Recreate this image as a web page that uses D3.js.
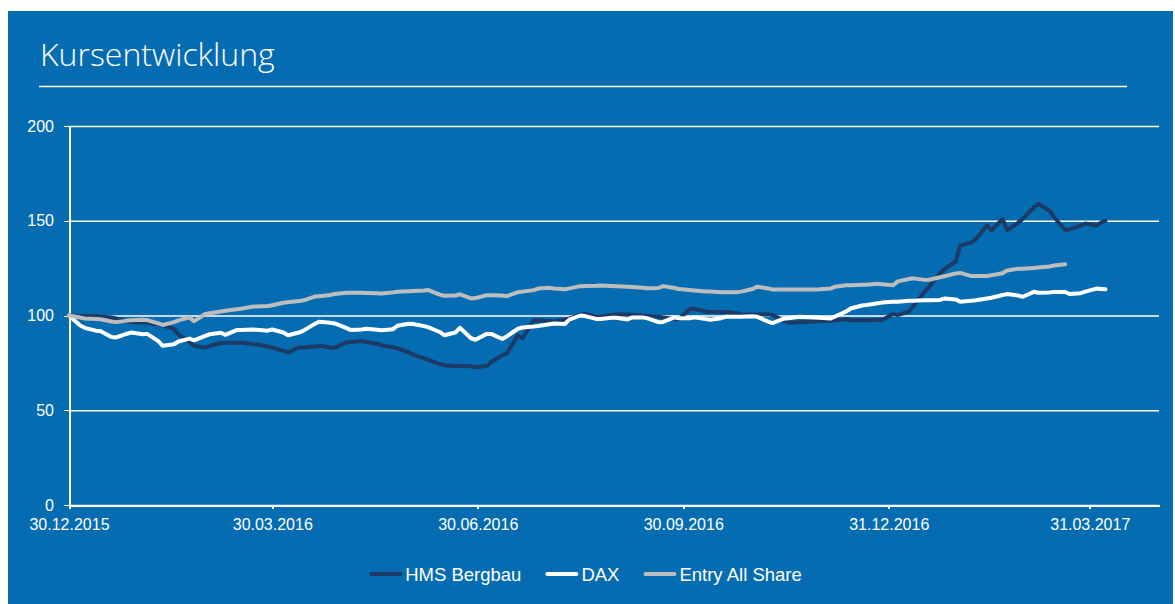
<!DOCTYPE html>
<html>
<head>
    <title>Kursentwicklung</title>
    <script src="https://d3js.org/d3.v7.min.js"></script>
    <style>
        body { margin: 0; background: #fff; }
        .axis path, .axis line { stroke: #fff; shape-rendering: crispEdges; }
        .axis text { fill: #fff; font-family: "Liberation Sans", Arial, sans-serif; font-size: 16px; }
        .grid line { stroke: #fff; stroke-width: 1.6; }
        .grid path { display: none; }
        .series { fill: none; stroke-width: 4; stroke-linejoin: round; stroke-linecap: round; }
    </style>
</head>
<body>
<div id="chart"></div>

<script>
    // sample dates (Wed / Mon), two per line
    var dates = [
        "2015-12-30", "2016-01-04", "2016-01-06", "2016-01-11", "2016-01-13", "2016-01-18",
        "2016-01-20", "2016-01-25", "2016-01-27", "2016-02-01", "2016-02-03", "2016-02-08",
        "2016-02-10", "2016-02-15", "2016-02-17", "2016-02-22", "2016-02-24", "2016-02-29",
        "2016-03-02", "2016-03-07", "2016-03-09", "2016-03-14", "2016-03-16", "2016-03-21",
        "2016-03-23", "2016-03-28", "2016-03-30", "2016-04-04", "2016-04-06", "2016-04-11",
        "2016-04-13", "2016-04-18", "2016-04-20", "2016-04-25", "2016-04-27", "2016-05-02",
        "2016-05-04", "2016-05-09", "2016-05-11", "2016-05-16", "2016-05-18", "2016-05-23",
        "2016-05-25", "2016-05-30", "2016-06-01", "2016-06-06", "2016-06-08", "2016-06-13",
        "2016-06-15", "2016-06-20", "2016-06-22", "2016-06-27", "2016-06-29", "2016-07-04",
        "2016-07-06", "2016-07-11", "2016-07-13", "2016-07-18", "2016-07-20", "2016-07-25",
        "2016-07-27", "2016-08-01", "2016-08-03", "2016-08-08", "2016-08-10", "2016-08-15",
        "2016-08-17", "2016-08-22", "2016-08-24", "2016-08-29", "2016-08-31", "2016-09-05",
        "2016-09-07", "2016-09-12", "2016-09-14", "2016-09-19", "2016-09-21", "2016-09-26",
        "2016-09-28", "2016-10-03", "2016-10-05", "2016-10-10", "2016-10-12", "2016-10-17",
        "2016-10-19", "2016-10-24", "2016-10-26", "2016-10-31", "2016-11-02", "2016-11-07",
        "2016-11-09", "2016-11-14", "2016-11-16", "2016-11-21", "2016-11-23", "2016-11-28",
        "2016-11-30", "2016-12-05", "2016-12-07", "2016-12-12", "2016-12-14", "2016-12-19",
        "2016-12-21", "2016-12-26", "2016-12-28", "2017-01-02", "2017-01-04", "2017-01-09",
        "2017-01-11", "2017-01-16", "2017-01-18", "2017-01-23", "2017-01-25", "2017-01-30",
        "2017-02-01", "2017-02-06", "2017-02-08", "2017-02-13", "2017-02-15", "2017-02-20",
        "2017-02-22", "2017-02-27", "2017-03-01", "2017-03-06", "2017-03-08", "2017-03-13",
        "2017-03-15", "2017-03-20", "2017-03-22", "2017-03-27", "2017-03-29", "2017-04-03",
        "2017-04-05", "2017-04-07"
    ];

    var hmsValues = [
        100, 99.8, 99.8, 99.6, 99.5, 99.0, 98.4, 97.0, 96.6, 96.3, 96.2, 95.3,
        94.8, 93, 90, 86.0, 84, 82.9, 83.9, 85.5, 85.6, 85.6, 85.6, 85.0,
        84.7, 83.6, 83, 81.3, 80.5, 83.1, 83.1, 83.6, 84, 83.1, 83, 85.7,
        86, 86.5, 86, 85.1, 84.3, 83.3, 82.6, 80.6, 79.4, 77.4, 76.6, 74.4,
        73.8, 73.4, 73.4, 73.2, 72.7, 73.3, 75.5, 79, 80, 89.5, 88, 97.3,
        97.5, 97.0, 96.8, 97.8, 98.3, 100.5, 100.8, 99.5, 99.3, 100.3, 100.6, 100.5,
        100.4, 100.0, 99.8, 99.3, 99, 98.2, 98, 103.4, 103.5, 102.1, 102, 101.9,
        101.9, 101.2, 100.7, 100.5, 100.5, 100.7, 100.2, 97.4, 96.2, 96.4, 96.5, 96.8,
        96.9, 97.2, 97.5, 98.0, 97.5, 97.5, 97.5, 97.6, 97.6, 100.8, 100.2, 102,
        105, 112.5, 115, 122.5, 124.5, 128.6, 137, 138.5, 140.3, 147.5, 145, 151,
        145, 149, 151, 157, 159, 155.3, 152, 145, 145.5, 147.5, 148.5, 147.5,
        149, 150
    ];

    var daxValues = [
        100, 94.7, 93.5, 92.0, 91.8, 88.7, 88.4, 90.4, 91.0, 90.1, 90.3, 86.5,
        84.0, 84.8, 86.3, 87.8, 86.9, 89.3, 90.1, 90.9, 89.8, 92.3, 92.4, 92.6,
        92.5, 92.0, 92.6, 91.0, 89.6, 91.0, 92.0, 95.6, 96.7, 96.2, 95.8, 93.5,
        92.4, 92.6, 93.0, 92.5, 92.2, 92.8, 94.6, 95.6, 95.5, 94.4, 93.7, 91.3,
        89.6, 91.0, 93.5, 88.0, 87.2, 90.3, 90.3, 87.6, 89.0, 93.0, 93.7, 94.2,
        94.5, 95.4, 95.8, 95.5, 97.8, 100.0, 99.7, 98.2, 98.2, 98.8, 98.8, 97.9,
        98.9, 99.0, 98.5, 96.5, 96.6, 99.0, 98.5, 98.5, 99.0, 98.1, 97.8, 98.6,
        99.3, 99.3, 99.4, 99.6, 99.4, 96.8, 96.0, 98.3, 98.6, 99.3, 99.2, 99.0,
        98.8, 98.4, 99.5, 102.2, 103.7, 105.3, 105.5, 106.5, 106.8, 107.3, 107.3, 107.8,
        107.8, 108.0, 108.0, 108.2, 109.0, 108.5, 107.3, 107.8, 108.0, 109.0, 109.4, 110.8,
        111.3, 110.5, 109.9, 112.5, 112.0, 112.2, 112.4, 112.4, 111.3, 111.8, 112.6, 114.2,
        114.0, 113.8
    ];

    var entryValues = [
        100, 98.9, 98.4, 98.1, 98.0, 96.8, 96.5, 97.3, 97.5, 97.7, 97.6, 95.8,
        95.0, 96.5, 97.4, 99.0, 97.0, 100.8, 101.2, 102.1, 102.5, 103.3, 103.6, 104.6,
        104.7, 105.0, 105.4, 106.7, 107.0, 107.6, 108.0, 110.0, 110.2, 110.8, 111.4, 112.0,
        112.0, 112.0, 111.9, 111.7, 111.6, 112.2, 112.5, 112.8, 112.9, 113.2, 113.4, 111.0,
        110.4, 110.5, 111.2, 109.0, 109.2, 110.7, 110.7, 110.5, 110.2, 112.3, 112.6, 113.4,
        114.2, 114.6, 114.2, 113.9, 114.3, 115.5, 115.6, 115.7, 115.8, 115.6, 115.5, 115.2,
        115.1, 114.7, 114.4, 114.5, 115.5, 114.5, 114.0, 113.4, 113.2, 112.7, 112.6, 112.3,
        112.3, 112.3, 112.6, 114.0, 115.2, 114.3, 113.7, 113.7, 113.7, 113.7, 113.7, 113.7,
        113.8, 114.2, 115.2, 116.0, 116.0, 116.2, 116.2, 116.8, 116.5, 116.0, 118.0, 119.3,
        119.6, 118.8, 118.9, 120.2, 120.7, 122.2, 122.5, 120.8, 120.8, 120.8, 121.2, 122.3,
        123.8, 124.7, 124.7, 125.1, 125.3, 125.9, 126.4, 127.0
    ];

    var seriesNames = ["HMS Bergbau", "DAX", "Entry All Share"];
    var seriesColors = ["#1c3a66", "#ffffff", "#bdbdbd"];
    var xTickDates = ["2015-12-30", "2016-03-30", "2016-06-30", "2016-09-30", "2016-12-31", "2017-03-31"];
    var yTicks = [0, 50, 100, 150, 200];

    var width = 1175;
    var height = 604;
    var plot = { left: 69, right: 1159, top: 126, bottom: 505 };

    var parse = d3.timeParse("%Y-%m-%d");
    var parsedDates = dates.map(parse);

    var svg = d3.select("#chart").append("svg")
        .attr("width", width)
        .attr("height", height);

    // blue panel
    svg.append("rect")
        .attr("x", 8).attr("y", 11)
        .attr("width", 1165).attr("height", height - 11)
        .attr("fill", "#066cb2");

    // title + rule
    svg.append("text")
        .attr("x", 40).attr("y", 66)
        .attr("fill", "#fff")
        .style("font-family", "'Open Sans', sans-serif")
        .style("font-weight", 300)
        .style("font-size", "32px")
        .text("Kursentwicklung");

    svg.append("line")
        .attr("x1", 39).attr("x2", 1127)
        .attr("y1", 86.5).attr("y2", 86.5)
        .attr("stroke", "#fff").attr("stroke-width", 1.5);

    var xScale = d3.scaleTime()
        .domain([parse("2015-12-30"), parse("2017-05-01")])
        .range([plot.left, plot.right]);

    var yScale = d3.scaleLinear()
        .domain([0, 200])
        .range([plot.bottom, plot.top]);

    // gridlines
    svg.append("g")
        .attr("class", "grid")
        .attr("transform", "translate(" + plot.left + ",0)")
        .call(d3.axisLeft(yScale).tickValues(yTicks).tickSize(-(plot.right - plot.left)).tickFormat(""));

    // Y axis
    svg.append("g")
        .attr("class", "axis")
        .attr("transform", "translate(" + plot.left + ",0)")
        .call(d3.axisLeft(yScale).tickValues(yTicks).tickSize(5).tickSizeOuter(0).tickPadding(10))
        .call(g => g.select(".domain").attr("stroke-width", 2));

    // X axis
    svg.append("g")
        .attr("class", "axis")
        .attr("transform", "translate(0," + plot.bottom + ")")
        .call(d3.axisBottom(xScale)
            .tickValues(xTickDates.map(parse))
            .tickFormat(d3.timeFormat("%d.%m.%Y"))
            .tickSize(4).tickSizeOuter(0).tickPadding(10))
        .call(g => g.select(".domain").attr("stroke-width", 2))
        .call(g => g.selectAll(".tick line").attr("stroke-width", 2));

    var allValues = [hmsValues, daxValues, entryValues];

    var line = d3.line()
        .x((d, i) => xScale(parsedDates[i]))
        .y(d => yScale(d));

    allValues.forEach(function(vals, k) {
        svg.append("path")
            .datum(vals)
            .attr("class", "series")
            .attr("stroke", seriesColors[k])
            .attr("d", line);
    });

    // legend
    var legend = svg.append("g");
    var cursor = 0;
    seriesNames.forEach(function(name, k) {
        var g = legend.append("g");
        g.append("line")
            .attr("x1", 2).attr("x2", 31)
            .attr("stroke", seriesColors[k])
            .attr("stroke-width", 4)
            .attr("stroke-linecap", "round");
        var t = g.append("text")
            .attr("x", 36).attr("dy", "0.36em")
            .attr("fill", "#fff")
            .style("font-family", "'Liberation Sans', Arial, sans-serif")
            .style("font-size", "18.5px")
            .text(name);
        g.attr("transform", "translate(" + cursor + ",0)");
        cursor += 36 + t.node().getComputedTextLength() + 24;
    });
    var legendWidth = cursor - 24;
    legend.attr("transform", "translate(" + (585.5 - legendWidth / 2) + ",574)");
</script>
</body>
</html>
